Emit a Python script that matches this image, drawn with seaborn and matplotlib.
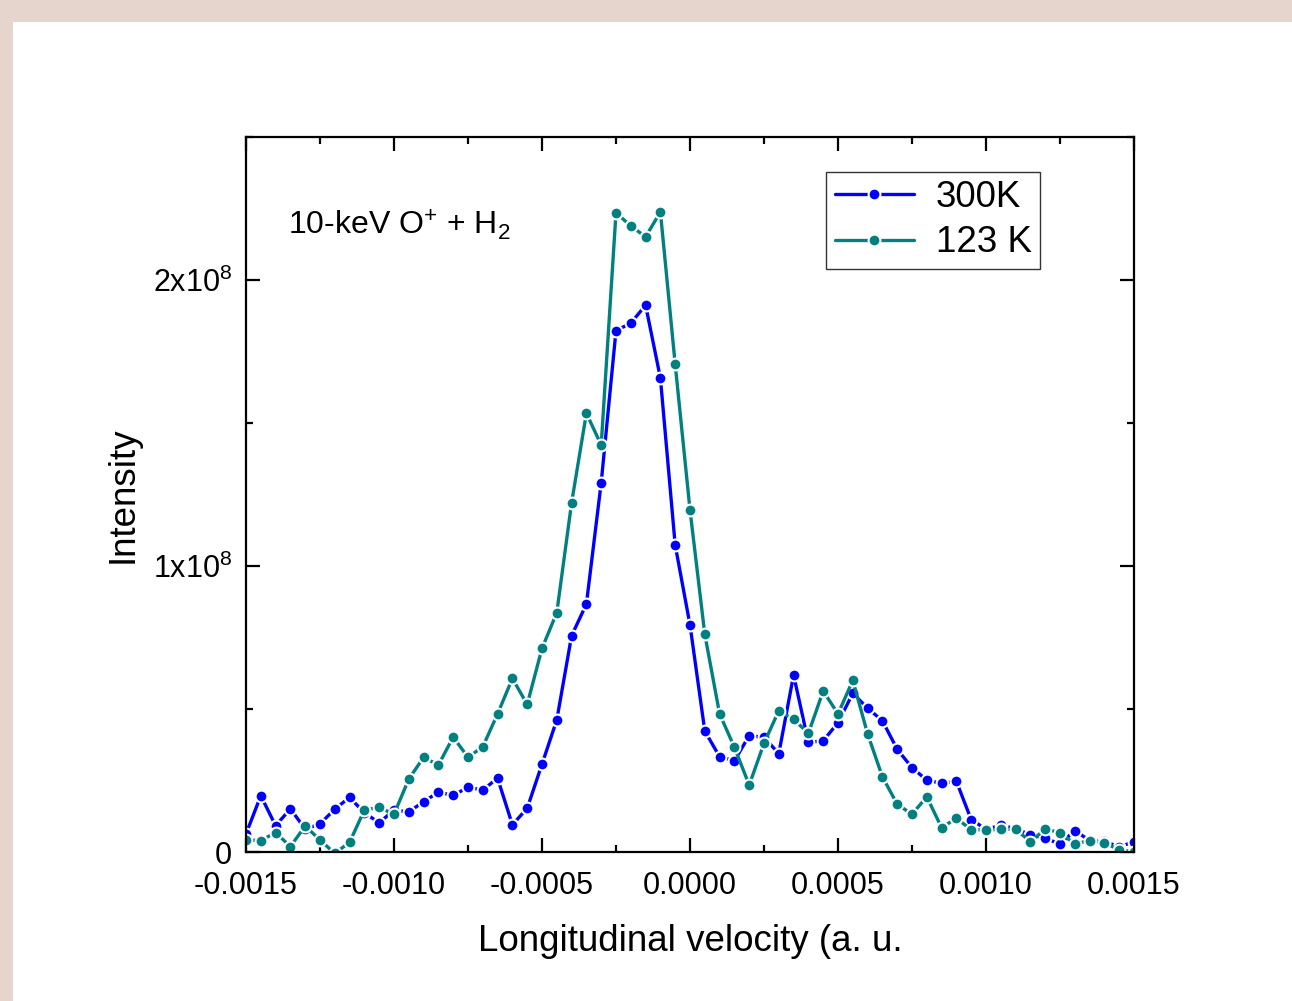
import numpy as np
import pandas as pd
import seaborn as sns
import matplotlib.pyplot as plt
import matplotlib.ticker as ticker
from matplotlib.patches import Rectangle

# longitudinal velocity grid (a.u.), 61 points from -0.0015 to 0.0015
velocity = [round(-0.0015 + 0.00005 * i, 5) for i in range(61)]

# intensity in units of 1e8
intensity_300K = [
    0.063, 0.197, 0.092, 0.151, 0.080, 0.098, 0.150, 0.191, 0.137, 0.102,
    0.147, 0.140, 0.176, 0.209, 0.198, 0.226, 0.217, 0.258, 0.095, 0.153,
    0.307, 0.462, 0.756, 0.867, 1.291, 1.823, 1.849, 1.912, 1.657, 1.073,
    0.794,
    0.423, 0.333, 0.319, 0.407, 0.401, 0.344, 0.619, 0.383, 0.389, 0.452,
    0.555, 0.503, 0.459, 0.359, 0.295, 0.251, 0.240, 0.247, 0.113, 0.080,
    0.093, 0.082, 0.060, 0.048, 0.028, 0.075, 0.040, 0.037, 0.018, 0.036,
]
intensity_123K = [
    0.042, 0.040, 0.068, 0.019, 0.091, 0.042, -0.005, 0.034, 0.147, 0.156,
    0.132, 0.255, 0.331, 0.304, 0.402, 0.331, 0.368, 0.483, 0.607, 0.516,
    0.712, 0.837, 1.221, 1.534, 1.423, 2.235, 2.189, 2.151, 2.238, 1.705,
    1.196,
    0.761, 0.483, 0.366, 0.234, 0.380, 0.494, 0.464, 0.415, 0.563, 0.483,
    0.600, 0.413, 0.263, 0.167, 0.132, 0.193, 0.085, 0.118, 0.078, 0.077,
    0.079, 0.080, 0.036, 0.080, 0.068, 0.028, 0.040, 0.033, 0.007, 0.001,
]
series_labels = ["300K", "123 K"]
series_colors = ["#0000ff", "#008080"]

df = pd.concat([
    pd.DataFrame({"v": velocity, "I": np.array(intensity_300K) * 1e8, "T": series_labels[0]}),
    pd.DataFrame({"v": velocity, "I": np.array(intensity_123K) * 1e8, "T": series_labels[1]}),
])

sns.set_theme(style="ticks")
plt.rcParams["font.family"] = ["Liberation Sans", "DejaVu Sans"]
plt.rcParams["mathtext.fontset"] = "custom"
plt.rcParams["mathtext.rm"] = "Liberation Sans"
plt.rcParams["mathtext.it"] = "Liberation Sans"
plt.rcParams["text.color"] = "black"
plt.rcParams["axes.labelcolor"] = "black"
plt.rcParams["xtick.color"] = "black"
plt.rcParams["ytick.color"] = "black"

fig = plt.figure(figsize=(12.92, 10.01), dpi=100, facecolor="#e5d5cc")
# white panel inside the beige border
fig.patches.append(Rectangle((13 / 1292, 0), 1, 1 - 22 / 1001, transform=fig.transFigure,
                             facecolor="white", edgecolor="none", zorder=-10))
ax = fig.add_axes([246 / 1292, 1 - 852 / 1001, 888 / 1292, 715 / 1001])
ax.set_facecolor("white")

sns.lineplot(data=df, x="v", y="I", hue="T", palette=series_colors, ax=ax,
             marker="o", markersize=8.5, markeredgecolor="white", markeredgewidth=1.5,
             linewidth=2.4, legend=False, estimator=None, sort=False)

ax.set_xlim(-0.0015, 0.0015)
ax.set_ylim(0, 2.5e8)

ax.xaxis.set_major_locator(ticker.MultipleLocator(0.0005))
ax.xaxis.set_minor_locator(ticker.MultipleLocator(0.00025))
ax.yaxis.set_major_locator(ticker.MultipleLocator(1e8))
ax.yaxis.set_minor_locator(ticker.MultipleLocator(0.5e8))
ax.xaxis.set_major_formatter(ticker.FuncFormatter(
    lambda x, _: "0.0000" if abs(x) < 1e-12 else f"{x:.4f}"))
ax.yaxis.set_major_formatter(ticker.FuncFormatter(
    lambda y, _: "0" if abs(y) < 1 else f"{int(round(y / 1e8))}x10$^{{8}}$"))

for s in ax.spines.values():
    s.set_linewidth(1.6)
    s.set_color("black")
ax.tick_params(which="both", direction="in", top=True, right=True, width=1.6, color="black")
ax.tick_params(which="major", length=10, labelsize=22)
ax.tick_params(axis="y", which="major", pad=10)
ax.tick_params(axis="x", which="major", pad=14)
ax.tick_params(which="minor", length=5)

ax.set_xlabel("Longitudinal velocity (a. u.", fontsize=26.5, labelpad=16)
ax.set_ylabel("Intensity", fontsize=26.5, labelpad=9)

ax.text(0.047, 0.863, "10-keV O$^{+}$ + H$_{2}$", transform=ax.transAxes,
        fontsize=23, va="baseline", ha="left")

ax.legend(ax.lines[:2], series_labels, loc="upper right", bbox_to_anchor=(0.894, 0.951),
          fontsize=26.5, handlelength=2.15, fancybox=False, framealpha=1,
          edgecolor="#333333", borderpad=0.22, labelspacing=0.28, handletextpad=0.6,
          borderaxespad=0)

fig.savefig("out.png", dpi=100, facecolor=fig.get_facecolor())
